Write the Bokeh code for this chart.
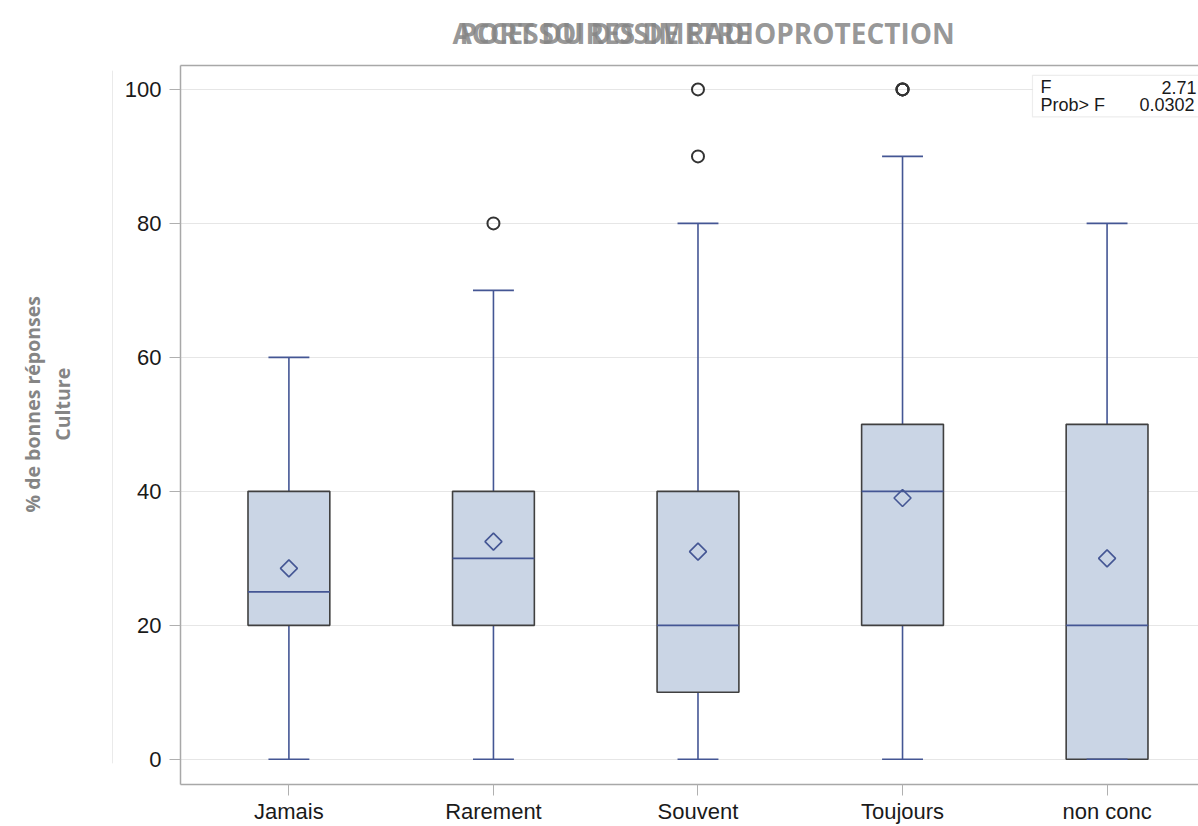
import numpy as np
from bokeh.plotting import figure
from bokeh.layouts import gridplot
from bokeh.models import (ColumnDataSource, Range1d, FixedTicker, LinearAxis,
                          Label, BoxAnnotation)
from bokeh.core.properties import value
from bokeh.embed import file_html
from bokeh.resources import INLINE

# ---------------- data ----------------
categories = ["Jamais", "Rarement", "Souvent", "Toujours", "non conc"]
whisker_low = [0, 0, 0, 0, 0]
q1 = [20, 20, 10, 20, 0]
median = [25, 30, 20, 40, 20]
q3 = [40, 40, 40, 50, 50]
whisker_high = [60, 70, 80, 90, 80]
mean = [28.5, 32.5, 31.0, 39.0, 30.0]
outlier_cat = ["Rarement", "Souvent", "Souvent", "Toujours", "Toujours", "Toujours"]
outlier_val = [80, 90, 100, 100, 100, 100]
y_ticks = [0, 20, 40, 60, 80, 100]
stat_F = "2.71"
stat_p = "0.0302"
title_1 = "PORT DU DOSIMETRE"
title_2 = "ACCESSOIRES DE RADIOPROTECTION"
ylab_1 = "% de bonnes réponses"
ylab_2 = "Culture"

# ---------------- styling ----------------
BOX_FILL = "#CAD5E5"
BLUE = "#445694"
OUTLINE = "#404040"
FRAME = "#a8a8a8"
GRAY_TXT = "#858585"
BOX_W = 0.4
CAP_W = 0.2
TICK_FONT = "Liberation Sans"
LEFT_W = 113          # width of the strip holding the y-axis title
TOP_H = 50            # height of the strip holding the title
BORDER_T, BORDER_B = 15, 39

xpos = list(range(len(categories)))
idx = {c: i for i, c in enumerate(categories)}

def px2x(px):
    return (px - 288.4) / 204.55

src = ColumnDataSource(dict(
    x=xpos, lo=whisker_low, q1=q1, med=median, q3=q3, hi=whisker_high, mean=mean,
    box_l=[x - BOX_W / 2 for x in xpos], box_r=[x + BOX_W / 2 for x in xpos],
    cap_l=[x - CAP_W / 2 for x in xpos], cap_r=[x + CAP_W / 2 for x in xpos],
))
out_src = ColumnDataSource(dict(x=[idx[c] for c in outlier_cat], y=outlier_val))

x_range = Range1d(-0.530, 4.447)
y_range = Range1d(-3.76, 103.57)

# ---------------- title strip ----------------
tf = figure(width=1198 - LEFT_W, height=TOP_H, output_backend="svg", toolbar_location=None,
            x_range=x_range, y_range=Range1d(0, TOP_H),
            x_axis_location=None, y_axis_location=None, min_border=0,
            min_border_left=180 - LEFT_W, min_border_right=0)
tf.outline_line_color = None
tf.xgrid.visible = False
tf.ygrid.visible = False
tsrc = ColumnDataSource(dict(x=[px2x(459), px2x(452)], y=[18, 18], t=[title_1, title_2]))
tf.text(x="x", y="y", text="t", source=tsrc, text_font=value("Open Sans"),
        text_font_style="bold", text_font_size="28px", text_color=GRAY_TXT,
        text_alpha=0.85, text_baseline="middle", text_align="left")

# ---------------- y-title strip ----------------
lf = figure(width=LEFT_W, height=826 - TOP_H, output_backend="svg", toolbar_location=None,
            x_range=Range1d(0, LEFT_W), y_range=y_range,
            x_axis_location=None, y_axis_location=None, min_border=0,
            min_border_top=BORDER_T, min_border_bottom=BORDER_B)
lf.outline_line_color = None
lf.xgrid.visible = False
lf.ygrid.visible = False
lsrc = ColumnDataSource(dict(x=[32, 62], y=[53, 53], t=[ylab_1, ylab_2]))
lf.text(x="x", y="y", text="t", source=lsrc, text_font=value("Open Sans"),
        text_font_style="bold", text_font_size="19.5px", text_color=GRAY_TXT,
        angle=np.pi / 2, text_align="center", text_baseline="middle")
# thin separator line
lf.segment(x0=[LEFT_W - 0.5], y0=[-0.6], x1=[LEFT_W - 0.5], y1=[102.8],
           line_color="#d4d4d4", line_width=1)

# ---------------- main plot ----------------
p = figure(width=1198 - LEFT_W, height=826 - TOP_H, output_backend="svg",
           toolbar_location=None, x_range=x_range, y_range=y_range,
           min_border_left=180 - LEFT_W, min_border_right=0,
           min_border_top=BORDER_T, min_border_bottom=BORDER_B)
p.outline_line_color = None
p.background_fill_color = "white"
p.border_fill_color = "white"

p.xgrid.grid_line_color = None
p.ygrid.ticker = FixedTicker(ticks=y_ticks)
p.ygrid.grid_line_color = "#e6e6e6"
p.ygrid.grid_line_width = 1

p.yaxis.ticker = FixedTicker(ticks=y_ticks)
p.xaxis.ticker = FixedTicker(ticks=xpos)
p.xaxis.major_label_overrides = {i: c for i, c in enumerate(categories)}
for ax in (p.xaxis[0], p.yaxis[0]):
    ax.axis_line_color = FRAME
    ax.axis_line_width = 1.5
    ax.major_tick_line_color = "#b0b0b0"
    ax.major_tick_out = 11
    ax.major_tick_in = 0
    ax.minor_tick_line_color = None
    ax.major_label_text_font = TICK_FONT
    ax.major_label_text_font_size = "22px"
    ax.major_label_text_color = "#1a1a1a"
p.yaxis.major_label_standoff = 8
p.xaxis.major_label_standoff = 3

# frame top line
top_ax = LinearAxis(ticker=FixedTicker(ticks=[]), axis_line_color=FRAME,
                    axis_line_width=1.5, major_tick_line_color=None,
                    minor_tick_line_color=None)
p.add_layout(top_ax, "above")

# whiskers
p.segment(x0="x", y0="lo", x1="x", y1="q1", source=src, line_color=BLUE, line_width=1.6)
p.segment(x0="x", y0="q3", x1="x", y1="hi", source=src, line_color=BLUE, line_width=1.6)
# boxes
p.quad(left="box_l", right="box_r", bottom="q1", top="q3", source=src,
       fill_color=BOX_FILL, line_color=OUTLINE, line_width=1.6)
# caps
p.segment(x0="cap_l", y0="lo", x1="cap_r", y1="lo", source=src, line_color=BLUE, line_width=1.6)
p.segment(x0="cap_l", y0="hi", x1="cap_r", y1="hi", source=src, line_color=BLUE, line_width=1.6)
# median
p.segment(x0="box_l", y0="med", x1="box_r", y1="med", source=src, line_color=BLUE, line_width=1.6)
# mean
p.scatter(x="x", y="mean", source=src, marker="square", angle=np.pi / 4, size=12,
          fill_color=None, line_color=BLUE, line_width=1.6)
# outliers
p.scatter(x="x", y="y", source=out_src, marker="circle", size=12,
          fill_color=None, line_color="#333333", line_width=2)

# stats inset
p.add_layout(BoxAnnotation(left=px2x(1032), right=5.0, bottom=95.9, top=102.1,
                           fill_color="white", fill_alpha=1.0,
                           line_color="#c4c4c4", line_width=1.2))
p.add_layout(Label(x=px2x(1040), y=100.3, text="F", text_font=TICK_FONT,
                   text_font_size="18px", text_color="#1a1a1a", text_baseline="middle"))
p.add_layout(Label(x=px2x(1196), y=100.3, text=stat_F, text_font=TICK_FONT,
                   text_font_size="18px", text_color="#1a1a1a", text_baseline="middle",
                   text_align="right"))
p.add_layout(Label(x=px2x(1040), y=97.7, text="Prob> F", text_font=TICK_FONT,
                   text_font_size="18px", text_color="#1a1a1a", text_baseline="middle"))
p.add_layout(Label(x=px2x(1139), y=97.7, text=stat_p, text_font=TICK_FONT,
                   text_font_size="18px", text_color="#1a1a1a", text_baseline="middle"))

grid = gridplot([[None, tf], [lf, p]], toolbar_location=None)
open("out.html", "w").write(file_html(grid, INLINE))
